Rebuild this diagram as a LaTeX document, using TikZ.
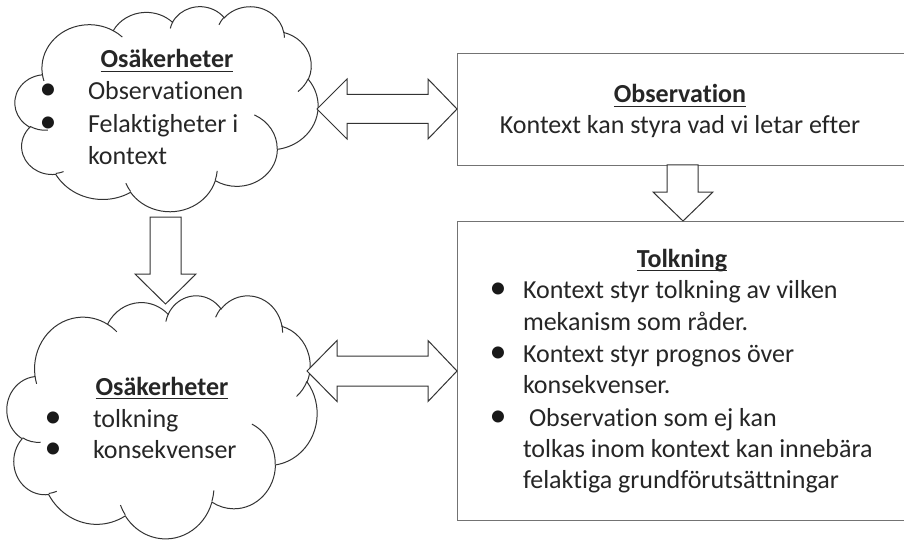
\documentclass[tikz,border=0pt]{standalone}
\usepackage{fontspec}
\setmainfont{Carlito}[Ligatures=NoCommon]
\begin{document}
\begin{tikzpicture}[x=1pt, y=-1pt,
  txt/.style={inner sep=0pt, outer sep=0pt, text=black!85,
    font=\fontsize{26}{32}\selectfont},
  head/.style={txt, font=\fontsize{26}{32}\selectfont\bfseries},
  bul/.style={inner sep=0pt, outer sep=0pt, text=black!90,
    font=\fontsize{34}{34}\selectfont, anchor=base},
  uline/.style={black!85, line width=1.3pt},
  cloudline/.style={draw=black!80, line width=1pt, fill=white},
  arcline/.style={draw=black!80, line width=1pt},
  blockarrow/.style={draw=black!80, line width=1pt, fill=white, line join=miter},
  box/.style={draw=black!55, line width=1.4pt, fill=white, inner sep=0pt,
    anchor=north west}]
\useasboundingbox (0,0) rectangle (904,540);
\fill[white] (0,0) rectangle (904,540);

% cloud outline in a 43.2 x 43.2 unit frame (y pointing down)
\newcommand{\officecloud}[5]{%
  \begin{scope}[shift={(#2,#3)}, x=1pt, y=1pt, xscale=#4, yscale=-#5]
    \path[cloudline] (3.9,14.37)
      arc[start angle=-187.75, delta angle=128.12, x radius=6.753pt, y radius=9.190pt]
      arc[start angle=-152.02, delta angle=106.60, x radius=5.333pt, y radius=7.267pt]
      arc[start angle=-153.49, delta angle=116.18, x radius=4.365pt, y radius=5.945pt]
      arc[start angle=-139.71, delta angle=129.50, x radius=4.857pt, y radius=6.595pt]
      arc[start angle=-74.77,  delta angle=97.98,  x radius=5.333pt, y radius=7.273pt]
      arc[start angle=-37.52,  delta angle=119.38, x radius=6.775pt, y radius=9.220pt]
      arc[start angle=0.46,    delta angle=121.52, x radius=5.785pt, y radius=7.867pt]
      arc[start angle=16.85,   delta angle=129.39, x radius=6.752pt, y radius=9.215pt]
      arc[start angle=58.98,   delta angle=91.21,  x radius=7.720pt, y radius=10.543pt]
      arc[start angle=83.31,   delta angle=139.81, x radius=4.360pt, y radius=5.918pt]
      arc[start angle=120.36,  delta angle=143.75, x radius=4.345pt, y radius=5.945pt]
      -- cycle;
    % inner puff creases
    \draw[arcline] (4.693,26.177) arc[start angle=85.55, delta angle=34.81, x radius=4.345pt, y radius=5.945pt];
    \draw[arcline] (6.928,34.899) arc[start angle=68.23, delta angle=15.08, x radius=4.360pt, y radius=5.918pt];
    \draw[arcline] (16.478,39.090) arc[start angle=146.24, delta angle=12.23, x radius=6.752pt, y radius=9.215pt];
    \draw[arcline] (28.827,34.751) arc[start angle=4.74, delta angle=12.11, x radius=6.752pt, y radius=9.215pt];
    \draw[arcline] (34.129,22.954) arc[start angle=-64.03, delta angle=64.49, x radius=5.785pt, y radius=7.867pt];
    \draw[arcline] (41.798,15.354) arc[start angle=23.21, delta angle=26.42, x radius=5.333pt, y radius=7.273pt];
    \draw[arcline] (38.324,5.426) arc[start angle=-10.21, delta angle=11.03, x radius=4.857pt, y radius=6.595pt];
    \draw[arcline] (29.078,3.952) arc[start angle=-156.28, delta angle=16.57, x radius=4.857pt, y radius=6.595pt];
    \draw[arcline] (22.141,4.720) arc[start angle=-167.73, delta angle=14.24, x radius=4.365pt, y radius=5.945pt];
    \draw[arcline] (14.000,5.192) arc[start angle=-59.63, delta angle=13.92, x radius=6.753pt, y radius=9.190pt];
    \draw[arcline] (4.127,15.789) arc[start angle=163.19, delta angle=9.06, x radius=6.753pt, y radius=9.190pt];
    \coordinate (#1) at (21.6,21.6);
  \end{scope}}

% boxes
\node[box, minimum width=455pt, minimum height=112pt] (obs) at (457,53) {};
\node[box, minimum width=455pt, minimum height=299pt] (tolk) at (457,221) {};

% clouds
\officecloud{cloudA}{15}{6}{7.0139}{4.7454}
\officecloud{cloudB}{7}{295}{7.1759}{5.6250}

% block arrows
\path[blockarrow] (317,109) -- (347,79) -- (347,94.5) -- (428,94.5) -- (428,79)
  -- (457,109) -- (428,139) -- (428,123.5) -- (347,123.5) -- (347,139) -- cycle;
\path[blockarrow] (307,371) -- (337,340.5) -- (337,356) -- (428,356) -- (428,340.5)
  -- (457,371) -- (428,401.5) -- (428,386) -- (337,386) -- (337,401.5) -- cycle;
\path[blockarrow] (667,165) -- (698,165) -- (698,192) -- (713,192) -- (683,221)
  -- (653,192) -- (667,192) -- cycle;
\path[blockarrow] (150,217) -- (181,217) -- (181,274) -- (196,274) -- (165.5,304)
  -- (135,274) -- (150,274) -- cycle;

% upper cloud text
\node[head, anchor=base] (ahead) at (167,68) {Osäkerheter};
\draw[uline] ([yshift=-3.5pt]ahead.base west) -- ([yshift=-3.5pt]ahead.base east);
\node[bul] (ab1) at (48,100) {•};
\node[txt, anchor=base west] (at1) at (88,100) {Observationen};
\node[bul] (ab2) at (48,133) {•};
\node[txt, anchor=base west] (at2) at (88,133) {Felaktigheter i};
\node[txt, anchor=base west] (at3) at (88,165) {kontext};

% lower cloud text
\node[head, anchor=base] (bhead) at (162,395) {Osäkerheter};
\draw[uline] ([yshift=-3.5pt]bhead.base west) -- ([yshift=-3.5pt]bhead.base east);
\node[bul] (bb1) at (53,427) {•};
\node[txt, anchor=base west] (bt1) at (93,427) {tolkning};
\node[bul] (bb2) at (53,458) {•};
\node[txt, anchor=base west] (bt2) at (93,458) {konsekvenser};

% observation box text
\node[head, anchor=base] (ohead) at (680,103) {Observation};
\draw[uline] ([yshift=-3.5pt]ohead.base west) -- ([yshift=-3.5pt]ohead.base east);
\node[txt, anchor=base] (otext) at (680,134) {Kontext kan styra vad vi letar efter};

% interpretation box text
\node[head, anchor=base] (thead) at (682,267) {Tolkning};
\draw[uline] ([yshift=-3.5pt]thead.base west) -- ([yshift=-3.5pt]thead.base east);
\node[bul] (tb1) at (498,298) {•};
\node[txt, anchor=base west] (tt1) at (523,298) {Kontext styr tolkning av vilken};
\node[txt, anchor=base west] (tt2) at (523,330) {mekanism som råder.};
\node[bul] (tb2) at (498,362) {•};
\node[txt, anchor=base west] (tt3) at (523,362) {Kontext styr prognos över};
\node[txt, anchor=base west] (tt4) at (523,393) {konsekvenser.};
\node[bul] (tb3) at (498,426) {•};
\node[txt, anchor=base west] (tt5) at (529,426) {Observation som ej kan};
\node[txt, anchor=base west] (tt6) at (523,457) {tolkas inom kontext kan innebära};
\node[txt, anchor=base west] (tt7) at (523,488) {felaktiga grundförutsättningar};
\end{tikzpicture}
\end{document}
